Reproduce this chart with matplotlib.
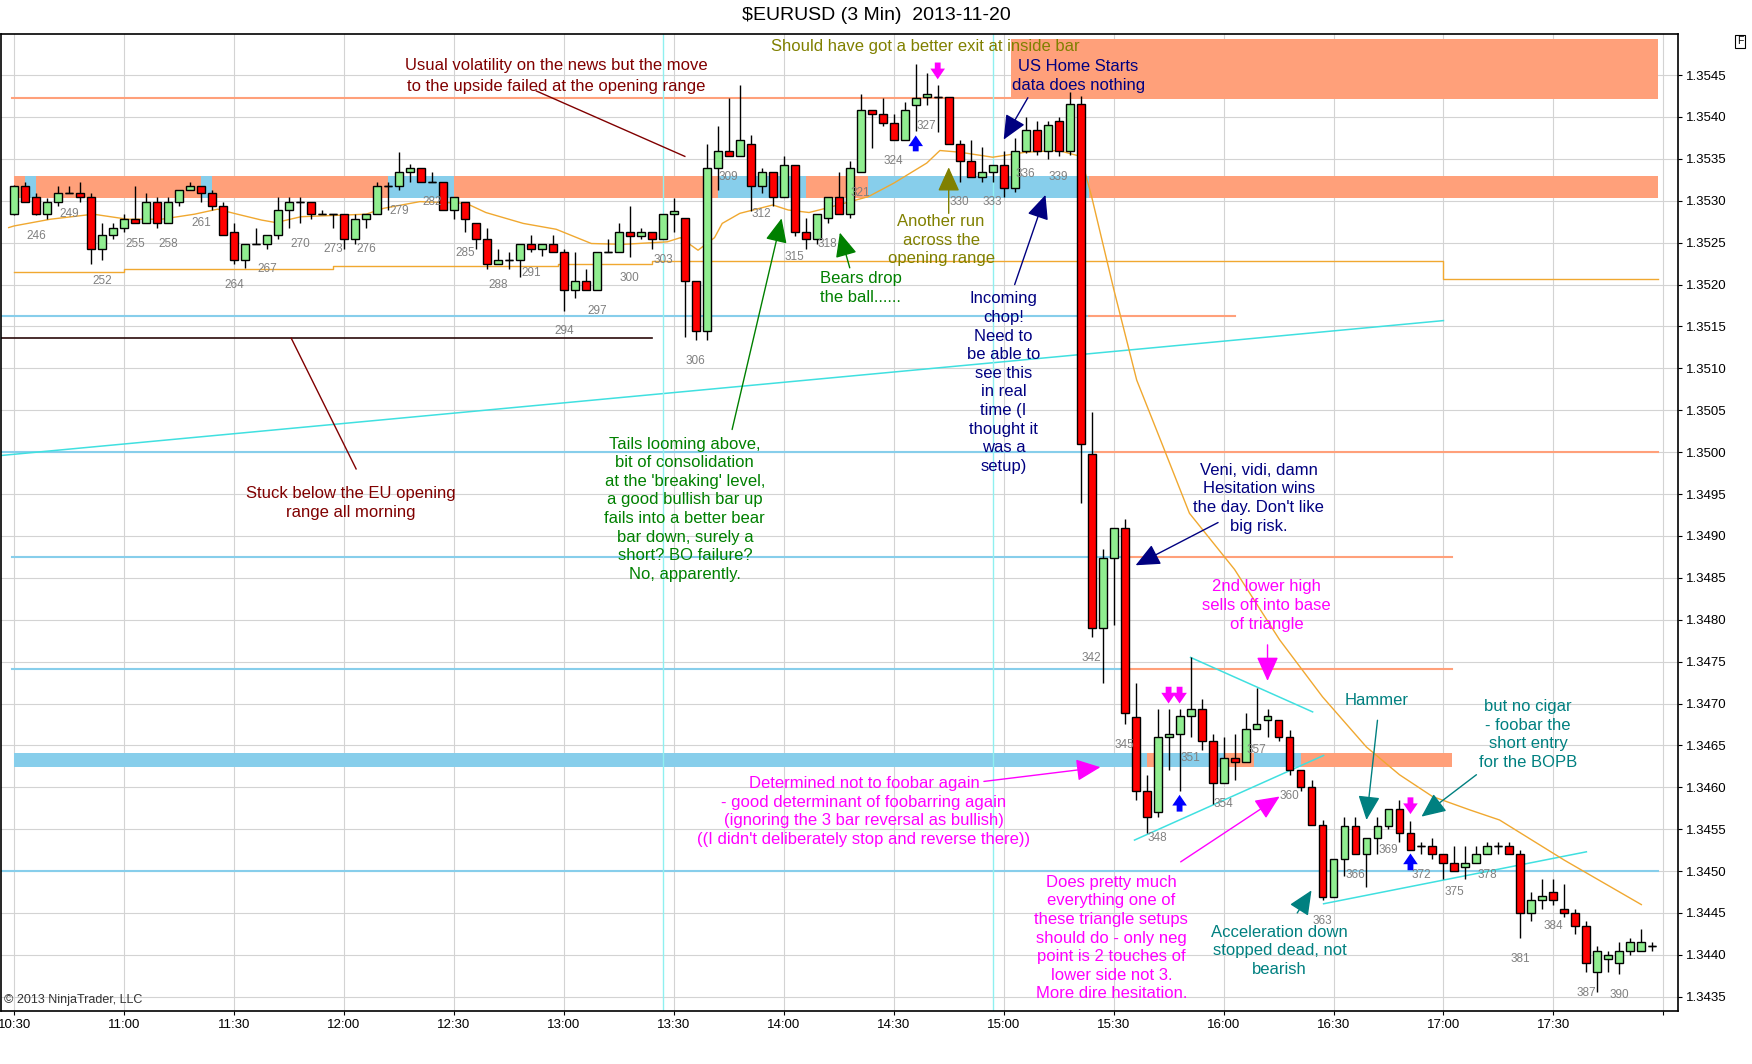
import numpy as np
import matplotlib
matplotlib.use("Agg")
import matplotlib.pyplot as plt
from matplotlib.patches import Rectangle

plt.rcParams['font.family'] = ['Liberation Sans', 'DejaVu Sans']

# --- data: 3 min bars, numbered 244..393 ---
first_bar = 244
opens = [
    1.35284, 1.35318, 1.35304, 1.35284, 1.35298, 1.35309, 1.35309, 1.35304, 1.35243, 1.35259,
    1.35268, 1.35278, 1.35273, 1.35298, 1.35273, 1.35298, 1.35313, 1.35318, 1.35309, 1.35294,
    1.35263, 1.35229, 1.35249, 1.35249, 1.35259, 1.35289, 1.35298, 1.35298, 1.35284, 1.35284,
    1.35284, 1.35254, 1.35278, 1.35284, 1.35318, 1.35318, 1.35334, 1.35339, 1.35323, 1.35323,
    1.35289, 1.35298, 1.35273, 1.35254, 1.35224, 1.35229, 1.35229, 1.35249, 1.35243, 1.35249,
    1.35239, 1.35194, 1.35204, 1.35194, 1.35239, 1.35239, 1.35263, 1.35258, 1.35263, 1.35254,
    1.35284, 1.35279, 1.35204, 1.35144, 1.35339, 1.35359, 1.35353, 1.35368, 1.35318, 1.35334,
    1.35304, 1.35343, 1.35263, 1.35254, 1.35279, 1.35304, 1.35284, 1.35334, 1.35408, 1.35403,
    1.35393, 1.35373, 1.35414, 1.35424, 1.35424, 1.35424, 1.35368, 1.35348, 1.35328, 1.35334,
    1.35343, 1.35315, 1.35360, 1.35385, 1.35360, 1.35395, 1.35360, 1.35415, 1.34998, 1.34790,
    1.34874, 1.34909, 1.34684, 1.34595, 1.34570, 1.34660, 1.34664, 1.34685, 1.34694, 1.34655,
    1.34605, 1.34635, 1.34630, 1.34669, 1.34680, 1.34680, 1.34660, 1.34621, 1.34600, 1.34555,
    1.34469, 1.34515, 1.34554, 1.34520, 1.34540, 1.34554, 1.34574, 1.34545, 1.34530, 1.34530,
    1.34520, 1.34510, 1.34505, 1.34510, 1.34520, 1.34530, 1.34530, 1.34520, 1.34450, 1.34465,
    1.34475, 1.34455, 1.34450, 1.34435, 1.34380, 1.34395, 1.34390, 1.34405, 1.34405, 1.34410,
]
highs = [
    1.35319, 1.35323, 1.35309, 1.35303, 1.35318, 1.35318, 1.35323, 1.35309, 1.35273, 1.35273,
    1.35284, 1.35318, 1.35309, 1.35304, 1.35304, 1.35313, 1.35323, 1.35318, 1.35313, 1.35298,
    1.35273, 1.35249, 1.35268, 1.35259, 1.35304, 1.35304, 1.35304, 1.35298, 1.35289, 1.35284,
    1.35284, 1.35284, 1.35284, 1.35323, 1.35323, 1.35358, 1.35344, 1.35339, 1.35334, 1.35323,
    1.35304, 1.35298, 1.35273, 1.35268, 1.35243, 1.35239, 1.35249, 1.35259, 1.35249, 1.35259,
    1.35243, 1.35239, 1.35219, 1.35239, 1.35254, 1.35273, 1.35294, 1.35268, 1.35263, 1.35284,
    1.35303, 1.35279, 1.35204, 1.35368, 1.35389, 1.35423, 1.35438, 1.35378, 1.35339, 1.35334,
    1.35353, 1.35343, 1.35279, 1.35284, 1.35304, 1.35334, 1.35348, 1.35428, 1.35408, 1.35423,
    1.35403, 1.35418, 1.35463, 1.35453, 1.35438, 1.35424, 1.35373, 1.35373, 1.35364, 1.35343,
    1.35360, 1.35375, 1.35400, 1.35395, 1.35395, 1.35400, 1.35430, 1.35425, 1.35048, 1.34884,
    1.34909, 1.34920, 1.34724, 1.34615, 1.34694, 1.34694, 1.34694, 1.34755, 1.34705, 1.34664,
    1.34660, 1.34664, 1.34689, 1.34718, 1.34694, 1.34680, 1.34668, 1.34621, 1.34609, 1.34561,
    1.34515, 1.34565, 1.34565, 1.34540, 1.34565, 1.34574, 1.34585, 1.34560, 1.34535, 1.34540,
    1.34520, 1.34530, 1.34530, 1.34530, 1.34535, 1.34535, 1.34535, 1.34525, 1.34475, 1.34490,
    1.34490, 1.34485, 1.34455, 1.34440, 1.34410, 1.34405, 1.34415, 1.34420, 1.34431, 1.34415,
]
lows = [
    1.35283, 1.35298, 1.35283, 1.35278, 1.35294, 1.35309, 1.35298, 1.35224, 1.35229, 1.35254,
    1.35263, 1.35273, 1.35273, 1.35268, 1.35273, 1.35294, 1.35313, 1.35298, 1.35289, 1.35259,
    1.35224, 1.35220, 1.35249, 1.35243, 1.35254, 1.35268, 1.35273, 1.35278, 1.35284, 1.35268,
    1.35243, 1.35249, 1.35268, 1.35284, 1.35289, 1.35313, 1.35323, 1.35323, 1.35323, 1.35289,
    1.35278, 1.35263, 1.35243, 1.35219, 1.35224, 1.35219, 1.35209, 1.35239, 1.35234, 1.35239,
    1.35169, 1.35184, 1.35194, 1.35194, 1.35239, 1.35239, 1.35233, 1.35254, 1.35243, 1.35254,
    1.35263, 1.35138, 1.35134, 1.35134, 1.35313, 1.35353, 1.35353, 1.35288, 1.35309, 1.35294,
    1.35304, 1.35258, 1.35243, 1.35248, 1.35273, 1.35284, 1.35279, 1.35334, 1.35363, 1.35389,
    1.35373, 1.35373, 1.35383, 1.35414, 1.35382, 1.35368, 1.35323, 1.35328, 1.35323, 1.35323,
    1.35305, 1.35310, 1.35357, 1.35355, 1.35350, 1.35353, 1.35355, 1.34939, 1.34779, 1.34724,
    1.34794, 1.34675, 1.34585, 1.34545, 1.34565, 1.34621, 1.34595, 1.34660, 1.34645, 1.34580,
    1.34605, 1.34609, 1.34630, 1.34669, 1.34660, 1.34655, 1.34615, 1.34595, 1.34555, 1.34465,
    1.34469, 1.34494, 1.34520, 1.34481, 1.34520, 1.34550, 1.34535, 1.34525, 1.34520, 1.34515,
    1.34491, 1.34500, 1.34491, 1.34510, 1.34520, 1.34520, 1.34520, 1.34420, 1.34440, 1.34455,
    1.34460, 1.34445, 1.34425, 1.34380, 1.34356, 1.34380, 1.34377, 1.34400, 1.34405, 1.34405,
]
closes = [
    1.35318, 1.35298, 1.35284, 1.35298, 1.35309, 1.35309, 1.35304, 1.35243, 1.35259, 1.35268,
    1.35278, 1.35273, 1.35298, 1.35273, 1.35298, 1.35313, 1.35318, 1.35309, 1.35294, 1.35259,
    1.35229, 1.35249, 1.35249, 1.35259, 1.35289, 1.35298, 1.35298, 1.35284, 1.35284, 1.35284,
    1.35254, 1.35278, 1.35284, 1.35318, 1.35318, 1.35334, 1.35339, 1.35323, 1.35323, 1.35289,
    1.35304, 1.35278, 1.35254, 1.35224, 1.35229, 1.35229, 1.35249, 1.35243, 1.35249, 1.35239,
    1.35194, 1.35204, 1.35194, 1.35239, 1.35239, 1.35263, 1.35258, 1.35263, 1.35254, 1.35284,
    1.35288, 1.35204, 1.35144, 1.35339, 1.35359, 1.35353, 1.35373, 1.35318, 1.35334, 1.35304,
    1.35343, 1.35263, 1.35254, 1.35284, 1.35304, 1.35284, 1.35339, 1.35408, 1.35403, 1.35393,
    1.35373, 1.35408, 1.35423, 1.35428, 1.35424, 1.35368, 1.35348, 1.35328, 1.35334, 1.35343,
    1.35315, 1.35360, 1.35385, 1.35360, 1.35390, 1.35360, 1.35415, 1.35010, 1.34790, 1.34874,
    1.34909, 1.34689, 1.34595, 1.34565, 1.34660, 1.34664, 1.34685, 1.34694, 1.34655, 1.34605,
    1.34635, 1.34630, 1.34669, 1.34675, 1.34685, 1.34660, 1.34621, 1.34600, 1.34555, 1.34469,
    1.34515, 1.34554, 1.34520, 1.34540, 1.34554, 1.34574, 1.34545, 1.34525, 1.34530, 1.34520,
    1.34510, 1.34500, 1.34510, 1.34520, 1.34530, 1.34530, 1.34520, 1.34450, 1.34465, 1.34470,
    1.34465, 1.34450, 1.34435, 1.34390, 1.34405, 1.34400, 1.34405, 1.34415, 1.34415, 1.34410,
]

# moving average (orange curve)
ma_x = [243.5, 244, 247.3, 251.2, 254.3, 257.4, 260.4, 262.5, 264.3, 266.5,
        267.8, 270.1, 276, 277.6, 280.9, 285.1, 286.9, 290.3, 293.3, 296.5,
        299.4, 303.4, 304.6, 306.2, 307.7, 308.4, 310, 313, 314.4, 316.3,
        318.1, 321.7, 324, 327, 328.2, 330, 333, 336, 339, 341,
        342, 344, 346.1, 348.4, 350.9, 355, 359.1, 363, 367, 370,
        373, 376.4, 379.1, 385, 392]
ma_y = [1.35268, 1.35270, 1.35278, 1.35284, 1.35278, 1.35278, 1.35284, 1.35290, 1.35284, 1.35277,
        1.35274, 1.35281, 1.35284, 1.35291, 1.35299, 1.35297, 1.35286, 1.35273, 1.35266, 1.35249,
        1.35248, 1.35251, 1.35256, 1.35241, 1.35256, 1.35273, 1.35285, 1.35295, 1.35289, 1.35286,
        1.35292, 1.35305, 1.35321, 1.35345, 1.35360, 1.35358, 1.35352, 1.35358, 1.35360, 1.35353,
        1.35305, 1.35195, 1.35086, 1.35010, 1.34927, 1.34860, 1.34776, 1.34708, 1.34648, 1.34615,
        1.34589, 1.34573, 1.34561, 1.34513, 1.34460]

# stepped level line
step_x = [244, 254, 273, 293.5, 302, 374, 393.5]
step_y = [1.35215, 1.35218, 1.35222, 1.35225, 1.35228, 1.35207, 1.35207]

# zones: (low, high, [(x0, x1, colour key), ...])
zone_top = (1.35422, 1.35493, [(334.7, 393.5, 's')])
zone_mid = (1.35303, 1.35330, [(244, 245, 's'), (245, 246, 'b'), (246, 261, 's'), (261, 262, 'b'),
                               (262, 278, 's'), (278, 284, 'b'), (284, 308, 's'), (308, 316, 'b'),
                               (316, 321.7, 's'), (321.7, 341.8, 'b'), (341.8, 393.5, 's')])
zone_low = (1.34624, 1.34641, [(244, 347, 'b'), (347, 348.5, 's'), (348.5, 354.1, 'b'),
                               (354.1, 356.8, 's'), (356.8, 361, 'b'), (361, 374.8, 's')])

# horizontal levels: (price, [(x0, x1, colour key), ...])
levels = [
    (1.35423, [(243.8, 334.7, 's')]),
    (1.35163, [(242.8, 341.8, 'b'), (341.8, 355.0, 's')]),
    (1.35000, [(242.8, 342.3, 'b'), (342.3, 393.5, 's')]),
    (1.34875, [(243.8, 345.6, 'b'), (345.6, 374.8, 's')]),
    (1.34741, [(243.8, 345.5, 'b'), (345.5, 374.8, 's')]),
    (1.34500, [(242.8, 393.5, 'b')]),
]
dark_level = (1.35136, 242.8, 302)

# trend lines (cyan)
trend_lines = [
    ((242.8, 1.34996), (374.0, 1.35157)),
    ((351.0, 1.34755), (362.1, 1.34690)),
    ((345.9, 1.34537), (363.1, 1.34638)),
    ((363.1, 1.34461), (387.0, 1.34523)),
]
vlines_cyan = [303.05, 333.05]

# annotations: text, x, y, colour, line spacing
notes = [
    ("Usual volatility on the news but the move\nto the upside failed at the opening range", 293.3, 1.35449, '#800000', 1.55),
    ("Should have got a better exit at inside bar", 326.9, 1.35484, '#808000', 1.3),
    ("US Home Starts\ndata does nothing", 340.8, 1.35449, '#000080', 1.3),
    ("Stuck below the EU opening\nrange all morning", 274.6, 1.34939, '#800000', 1.3),
    ("Tails looming above,\nbit of consolidation\nat the 'breaking' level,\na good bullish bar up\n"
     "fails into a better bear\nbar down, surely a\nshort? BO failure?\nNo, apparently.", 305.0, 1.34932, '#008000', 1.3),
    ("Bears drop\nthe ball......", 321.0, 1.35196, '#008000', 1.3),
    ("Another run\nacross the\nopening range", 328.3, 1.35253, '#808000', 1.3),
    ("Incoming\nchop!\nNeed to\nbe able to\nsee this\nin real\ntime (I\nthought it\nwas a\nsetup)", 334.0, 1.35083, '#000080', 1.3),
    ("Veni, vidi, damn\nHesitation wins\nthe day. Don't like\nbig risk.", 357.2, 1.34945, '#000080', 1.3),
    ("2nd lower high\nsells off into base\nof triangle", 357.9, 1.34817, '#FF00FF', 1.3),
    ("Hammer", 367.9, 1.34703, '#008080', 1.3),
    ("but no cigar\n- foobar the\nshort entry\nfor the BOPB", 381.7, 1.34663, '#008080', 1.3),
    ("Determined not to foobar again\n- good determinant of foobarring again\n(ignoring the 3 bar reversal as bullish)\n"
     "((I didn't deliberately stop and reverse there))", 321.3, 1.34571, '#FF00FF', 1.3),
    ("Does pretty much\neverything one of\nthese triangle setups\nshould do - only neg\npoint is 2 touches of\n"
     "lower side not 3.\nMore dire hesitation.", 343.8, 1.34420, '#FF00FF', 1.3),
    ("Acceleration down\nstopped dead, not\nbearish", 359.1, 1.34405, '#008080', 1.3),
]

# arrows: (tail, head, colour)
arrows = [
    ((336.2, 1.35423), (334.0, 1.35373), '#000080'),
    ((335.0, 1.35200), (337.8, 1.35307), '#000080'),
    ((353.5, 1.34916), (346.0, 1.34865), '#000080'),
    ((309.3, 1.35027), (313.8, 1.35279), '#008000'),
    ((320.0, 1.35220), (319.1, 1.35262), '#008000'),
    ((329.0, 1.35285), (329.0, 1.35340), '#808000'),
    ((332.2, 1.34607), (342.8, 1.34624), '#FF00FF'),
    ((350.1, 1.34511), (359.1, 1.34589), '#FF00FF'),
    ((358.0, 1.34770), (358.0, 1.34727), '#FF00FF'),
    ((368.0, 1.34680), (367.0, 1.34561), '#008080'),
    ((377.0, 1.34615), (372.0, 1.34565), '#008080'),
    ((360.7, 1.34450), (362.0, 1.34477), '#008080'),
]
plain_lines = [
    ((291.5, 1.35431), (305.0, 1.35353)),
    ((269.2, 1.35136), (275.1, 1.34980)),
]

# entry / exit signal arrows: bar, tail, head, colour
signals = [
    (326, 1.35359, 1.35378, 'blue'),
    (328, 1.35465, 1.35445, '#FF00FF'),
    (349, 1.34720, 1.34700, '#FF00FF'),
    (350, 1.34720, 1.34700, '#FF00FF'),
    (350, 1.34571, 1.34591, 'blue'),
    (371, 1.34588, 1.34568, '#FF00FF'),
    (371, 1.34501, 1.34521, 'blue'),
]

time_ticks = list(range(244, 395, 10))
time_labels = ["10:30", "11:00", "11:30", "12:00", "12:30", "13:00", "13:30", "14:00",
               "14:30", "15:00", "15:30", "16:00", "16:30", "17:00", "17:30", ""]

SALMON = '#FFA07A'
SKY = '#87CEEB'
CYAN = '#40E0E0'
ORANGE = '#F0A830'
col = {'s': SALMON, 'b': SKY}

fig = plt.figure(figsize=(17.52, 10.64), dpi=100)
ax = fig.add_axes([0.0005, 0.0498, 0.9573, 0.9182])
ax.set_xlim(242.79, 395.34)
ax.set_ylim(1.34333, 1.35499)

# grid
ax.set_xticks(time_ticks)
ax.set_xticklabels(time_labels, fontsize=9.5)
yt = np.round(np.arange(1.3435, 1.35451, 0.0005), 4)
ax.set_yticks(yt)
ax.set_yticklabels([f"{v:.4f}" for v in yt], fontsize=9.5)
ax.yaxis.tick_right()
ax.tick_params(axis='both', length=3, pad=3)
ax.grid(True, color='#D3D3D3', lw=0.8, zorder=0)
ax.set_axisbelow(True)
for s in ax.spines.values():
    s.set_color('black')
    s.set_linewidth(1.2)

# zones
for lo, hi, segs in (zone_top, zone_mid, zone_low):
    for x0, x1, k in segs:
        ax.add_patch(Rectangle((x0, lo), x1 - x0, hi - lo, facecolor=col[k], edgecolor='none', zorder=1))

# levels
for price, segs in levels:
    for x0, x1, k in segs:
        ax.plot([x0, x1], [price, price], color=col[k], lw=1.5, zorder=2)
ax.plot([dark_level[1], dark_level[2]], [dark_level[0]] * 2, color='#2a0a0a', lw=1.2, zorder=2)

for (x0, y0), (x1, y1) in trend_lines:
    ax.plot([x0, x1], [y0, y1], color=CYAN, lw=1.1, zorder=2)
for vx in vlines_cyan:
    ax.axvline(vx, color='#8FF0F0', lw=1.0, zorder=2)

ax.plot(step_x, step_y, drawstyle='steps-post', color=ORANGE, lw=1.0, zorder=3)
ax.plot(ma_x, ma_y, color=ORANGE, lw=1.0, zorder=3)

# candles
o = np.array(opens)
h = np.array(highs)
l = np.array(lows)
c = np.array(closes)
xs = np.arange(first_bar, first_bar + len(o))
ax.vlines(xs, l, h, color='black', lw=1.0, zorder=4)
fill = np.where(c > o, '#90EE90', np.where(c < o, '#FF0000', 'black'))
ax.bar(xs, np.abs(c - o), bottom=np.minimum(o, c), width=0.72, color=fill,
       edgecolor='black', lw=1.0, zorder=5)
doji = c == o
ax.hlines(c[doji], xs[doji] - 0.36, xs[doji] + 0.36, color='black', lw=1.0, zorder=5)

# bar numbers
for n in range(246, 391, 3):
    ax.text(n, l[n - first_bar] - 0.00025, str(n), ha='center', va='center',
            fontsize=8.5, color='#808080', zorder=6)

# signal arrows
for bx, y0, y1, cc in signals:
    ax.annotate('', xy=(bx, y1), xytext=(bx, y0),
                arrowprops=dict(arrowstyle='simple,head_width=0.75,head_length=0.55,tail_width=0.3',
                                color=cc, lw=0, mutation_scale=14, shrinkA=0, shrinkB=0), zorder=7)

# annotation lines and arrows
for (x0, y0), (x1, y1) in plain_lines:
    ax.plot([x0, x1], [y0, y1], color='#800000', lw=1.0, zorder=6)
for (tx, ty), (hx, hy), cc in arrows:
    ax.annotate('', xy=(hx, hy), xytext=(tx, ty),
                arrowprops=dict(arrowstyle='-|>,head_length=1.0,head_width=0.45', color=cc,
                                lw=1.0, mutation_scale=15, shrinkA=0, shrinkB=0), zorder=7)

for txt, tx, ty, cc, ls in notes:
    ax.text(tx, ty, txt, ha='center', va='center', color=cc, fontsize=12,
            linespacing=ls, zorder=8)

ax.text(0.002, 0.011, "\u00a9 2013 NinjaTrader, LLC", transform=ax.transAxes, fontsize=9,
        color='#333333', ha='left', va='center', zorder=8)

fig.text(0.5, 0.985, "\\$EURUSD (3 Min)  2013-11-20", ha='center', va='center', fontsize=14)
fig.text(0.9932, 0.961, "F", ha='center', va='center', fontsize=7.5,
         bbox=dict(boxstyle='square,pad=0.15', facecolor='white', edgecolor='black', lw=0.8))

fig.savefig("out.png", dpi=100)
